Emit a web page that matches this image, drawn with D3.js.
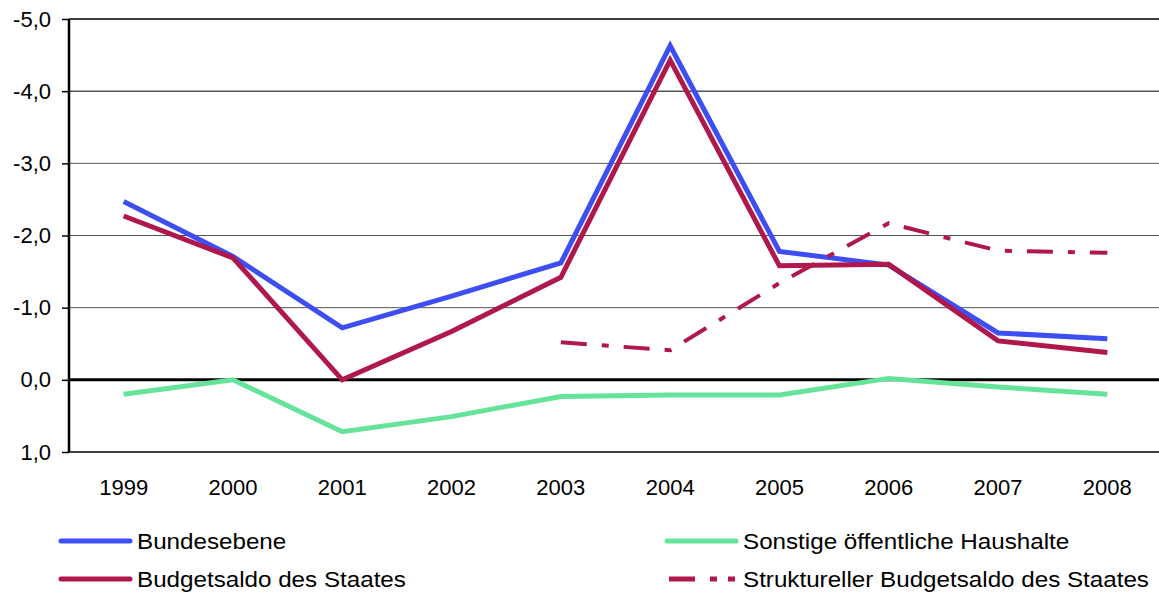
<!DOCTYPE html>
<html>
<head>
<meta charset="utf-8">
<script src="https://cdn.jsdelivr.net/npm/d3@7"></script>
<style>
  body { margin: 0; background: #fff; }
  text { font-family: "Liberation Sans", Arial, sans-serif; fill: #000; }
</style>
</head>
<body>
<div id="chart"></div>
<script>
var years = ["1999", "2000", "2001", "2002", "2003", "2004", "2005", "2006", "2007", "2008"];
var bundesebene = [-2.47, -1.71, -0.72, -1.16, -1.62, -4.63, -1.78, -1.59, -0.65, -0.57];
var sonstige = [0.20, 0.00, 0.72, 0.51, 0.23, 0.21, 0.21, -0.02, 0.10, 0.20];
var budgetsaldo = [-2.27, -1.69, 0.00, -0.67, -1.42, -4.43, -1.58, -1.60, -0.54, -0.38];
var strukturell = [null, null, null, null, -0.52, -0.41, -1.34, -2.17, -1.79, -1.76];
var yTicks = [-5, -4, -3, -2, -1, 0, 1];

var w = 1159, h = 594;
var m = {left: 69, right: 1162, top: 19, bottom: 452};

var svg = d3.select("#chart").append("svg")
    .attr("width", w)
    .attr("height", h);

var x = d3.scaleBand().domain(years).range([m.left, m.right]);
var y = d3.scaleLinear().domain([-5, 1]).range([m.top, m.bottom]);

var de = d3.formatLocale({decimal: ",", thousands: ".", grouping: [3], currency: ["", " €"], minus: "-"});
var fmt = de.format(".1f");

// grid lines
svg.append("g")
  .selectAll("line")
  .data(yTicks)
  .enter().append("line")
    .attr("x1", m.left).attr("x2", w)
    .attr("y1", function(d) { return y(d); })
    .attr("y2", function(d) { return y(d); })
    .attr("stroke", function(d) { return (d == -5 || d == 1 || d == -4 || d == 0) ? "#000" : "#555"; })
    .attr("stroke-width", function(d) { return d == 0 ? 3 : ((d == -5 || d == 1) ? 1.5 : 1); });

// y axis
var yAxis = d3.axisLeft(y)
    .tickValues(yTicks)
    .tickFormat(fmt)
    .tickSize(7)
    .tickPadding(11);

var ga = svg.append("g")
    .attr("transform", "translate(" + m.left + ",0)")
    .call(yAxis);
ga.select(".domain").attr("stroke-width", 2.5).attr("d", "M0," + m.top + "V" + m.bottom);
ga.selectAll(".tick line").attr("stroke-width", 1.5);
ga.selectAll(".tick text")
    .attr("font-size", 22)
    .attr("font-family", "Liberation Sans, Arial, sans-serif");

// x labels
svg.append("g")
  .selectAll("text")
  .data(years)
  .enter().append("text")
    .attr("x", function(d) { return x(d) + x.bandwidth() / 2; })
    .attr("y", 495)
    .attr("text-anchor", "middle")
    .attr("font-size", 22)
    .text(function(d) { return d; });

var line = d3.line()
    .defined(function(d) { return d != null; })
    .x(function(d, i) { return x(years[i]) + x.bandwidth() / 2; })
    .y(function(d) { return y(d); });

var blue = "#3d4ef4", green = "#66e39a", red = "#b0174d";
var dash = "26,15,7,15";

var series = [
  {name: "Sonstige öffentliche Haushalte", values: sonstige, color: green, width: 5, dash: null},
  {name: "Bundesebene", values: bundesebene, color: blue, width: 5, dash: null},
  {name: "Struktureller Budgetsaldo des Staates", values: strukturell, color: red, width: 4, dash: dash},
  {name: "Budgetsaldo des Staates", values: budgetsaldo, color: red, width: 5, dash: null}
];

svg.append("g")
  .selectAll("path")
  .data(series)
  .enter().append("path")
    .attr("d", function(d) { return line(d.values); })
    .attr("fill", "none")
    .attr("stroke", function(d) { return d.color; })
    .attr("stroke-width", function(d) { return d.width; })
    .attr("stroke-dasharray", function(d) { return d.dash; });

// legend
var legend = [
  {name: "Bundesebene", color: blue, dash: null, x: 61, y: 541},
  {name: "Budgetsaldo des Staates", color: red, dash: null, x: 61, y: 579},
  {name: "Sonstige öffentliche Haushalte", color: green, dash: null, x: 667, y: 541},
  {name: "Struktureller Budgetsaldo des Staates", color: red, dash: "26,15,7,11,7,20", x: 669, y: 579}
];

var lg = svg.append("g")
  .selectAll("g")
  .data(legend)
  .enter().append("g");

lg.append("line")
    .attr("x1", function(d) { return d.x; })
    .attr("x2", function(d) { return d.x < 300 ? 130 : 736; })
    .attr("y1", function(d) { return d.y; })
    .attr("y2", function(d) { return d.y; })
    .attr("stroke", function(d) { return d.color; })
    .attr("stroke-width", 5)
    .attr("stroke-linecap", function(d) { return d.dash ? "butt" : "round"; })
    .attr("stroke-dasharray", function(d) { return d.dash; });

lg.append("text")
    .attr("transform", function(d) {
      return "translate(" + (d.x < 300 ? 137 : 743) + "," + (d.y + 8) + ") scale(1.1,1)";
    })
    .attr("font-size", 22)
    .text(function(d) { return d.name; });
</script>
</body>
</html>
